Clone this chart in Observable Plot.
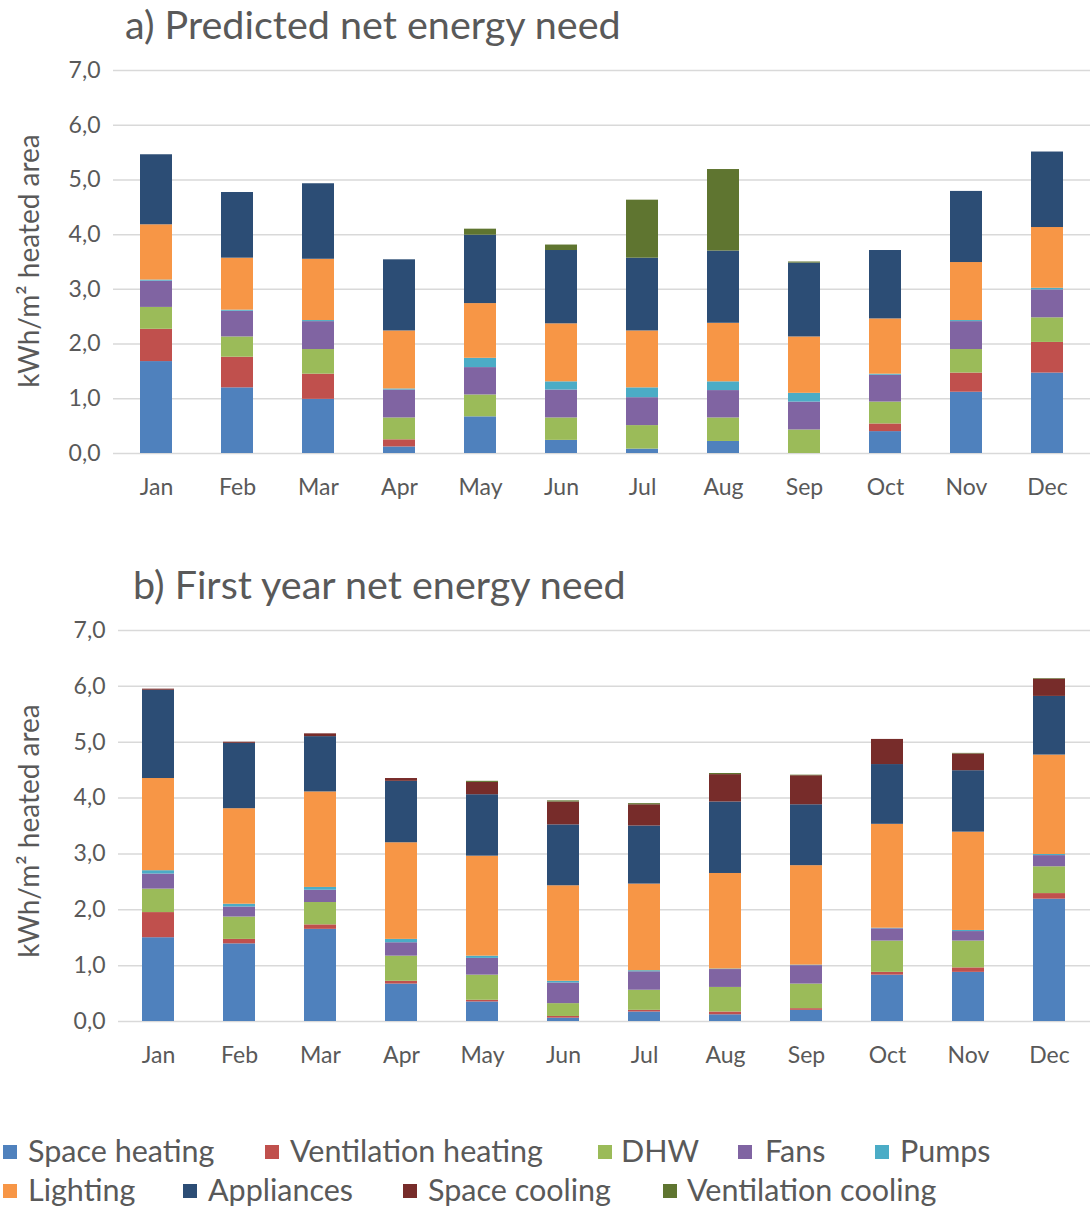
<!DOCTYPE html>
<html><head><meta charset="utf-8">
<script src="https://cdn.jsdelivr.net/npm/d3@7"></script>
<script src="https://cdn.jsdelivr.net/npm/@observablehq/plot@0.6"></script>
<style>
body{margin:0;background:#fff;font-family:Lato, "Open Sans", sans-serif;}
#wrap{position:relative;width:1090px;height:1207px;overflow:hidden;background:#fff;}
#wrap svg{position:absolute;left:0;}
.title{position:absolute;font-size:39.5px;color:#595959;white-space:nowrap;line-height:1;}
.ylab{position:absolute;font-size:28px;color:#595959;white-space:nowrap;line-height:1;transform:translate(-50%,-50%) rotate(-90deg);}
.leg{position:absolute;font-size:30.5px;color:#595959;white-space:nowrap;line-height:1;}
.sw{position:absolute;width:14px;height:14px;}
</style></head><body><div id="wrap"></div>
<script>
const months = ["Jan","Feb","Mar","Apr","May","Jun","Jul","Aug","Sep","Oct","Nov","Dec"];
const seriesNames = ["Space heating","Ventilation heating","DHW","Fans","Pumps","Lighting","Appliances","Space cooling","Ventilation cooling"];
const seriesColors = ["#4F81BD","#C0504D","#9BBB59","#8064A2","#4BACC6","#F79646","#2C4D75","#772C2A","#5F7530"];
const yTicks = [0,1,2,3,4,5,6,7];

// a) Predicted net energy need
const predSpaceHeating = [1.68,1.20,0.99,0.12,0.67,0.24,0.08,0.22,0.00,0.40,1.12,1.47];
const predVentHeating  = [0.59,0.56,0.46,0.13,0.00,0.00,0.00,0.00,0.00,0.14,0.35,0.56];
const predDHW          = [0.40,0.37,0.45,0.40,0.40,0.41,0.43,0.43,0.43,0.40,0.43,0.45];
const predFans         = [0.48,0.47,0.51,0.51,0.50,0.51,0.51,0.50,0.51,0.49,0.51,0.51];
const predPumps        = [0.02,0.02,0.02,0.02,0.17,0.15,0.18,0.16,0.16,0.02,0.02,0.03];
const predLighting     = [1.01,0.95,1.12,1.06,1.00,1.06,1.04,1.07,1.03,1.01,1.06,1.11];
const predAppliances   = [1.28,1.20,1.38,1.30,1.25,1.34,1.33,1.32,1.35,1.25,1.30,1.38];
const predSpaceCooling = [0,0,0,0,0,0,0,0,0,0,0,0];
const predVentCooling  = [0.00,0.00,0.00,0.00,0.11,0.10,1.06,1.49,0.02,0.00,0.00,0.00];

// b) First year net energy need
const firstSpaceHeating = [1.50,1.39,1.65,0.67,0.35,0.06,0.17,0.12,0.20,0.83,0.88,2.19];
const firstVentHeating  = [0.45,0.08,0.08,0.05,0.03,0.03,0.03,0.05,0.03,0.05,0.08,0.10];
const firstDHW          = [0.42,0.40,0.40,0.45,0.45,0.23,0.36,0.44,0.44,0.56,0.48,0.48];
const firstFans         = [0.27,0.18,0.22,0.24,0.30,0.37,0.33,0.32,0.33,0.22,0.17,0.20];
const firstPumps        = [0.06,0.05,0.05,0.06,0.04,0.03,0.02,0.01,0.01,0.01,0.02,0.02];
const firstLighting     = [1.65,1.71,1.71,1.73,1.79,1.71,1.55,1.71,1.78,1.86,1.76,1.78];
const firstAppliances   = [1.58,1.17,0.99,1.10,1.10,1.09,1.04,1.28,1.09,1.07,1.10,1.05];
const firstSpaceCooling = [0.02,0.02,0.05,0.05,0.22,0.41,0.38,0.49,0.52,0.45,0.30,0.31];
const firstVentCooling  = [0.00,0.00,0.00,0.00,0.02,0.02,0.02,0.02,0.01,0.00,0.01,0.01];

const predSeries = [predSpaceHeating,predVentHeating,predDHW,predFans,predPumps,predLighting,predAppliances,predSpaceCooling,predVentCooling];
const firstSeries = [firstSpaceHeating,firstVentHeating,firstDHW,firstFans,firstPumps,firstLighting,firstAppliances,firstSpaceCooling,firstVentCooling];

function toLong(arrs){
  const out = [];
  arrs.forEach((arr, si) => arr.forEach((v, mi) => out.push({month: months[mi], series: seriesNames[si], value: v})));
  return out;
}

const wrap = document.getElementById("wrap");
const fmt = d => d.toFixed(1).replace(".", ",");

function panel(data, top, height, marginLeft, titleText, titleLeft, titleTop, ylabTop){
  const chart = Plot.plot({
    width: 1090,
    height: height,
    marginTop: 70,
    marginBottom: 60,
    marginLeft: marginLeft,
    marginRight: 0,
    style: {fontFamily: "Lato, 'Open Sans', sans-serif", color: "#595959", background: "transparent", overflow: "visible"},
    x: {domain: months, paddingInner: 0.6, paddingOuter: 0.3, align: 0.5},
    y: {domain: [0, 7]},
    color: {domain: seriesNames, range: seriesColors},
    marks: [
      Plot.gridY(yTicks, {stroke: "#D9D9D9", strokeOpacity: 1, strokeWidth: 1.5}),
      Plot.barY(data, {x: "month", y: "value", fill: "series", order: null}),
      Plot.axisY(yTicks, {tickSize: 0, tickPadding: 13, fontSize: 23, tickFormat: fmt, label: null}),
      Plot.axisX({tickSize: 0, tickPadding: 25, fontSize: 23, label: null})
    ]
  });
  chart.style.top = top + "px";
  wrap.appendChild(chart);
  const t = document.createElement("div");
  t.className = "title"; t.textContent = titleText;
  t.style.left = titleLeft + "px"; t.style.top = titleTop + "px";
  wrap.appendChild(t);
  const yl = document.createElement("div");
  yl.className = "ylab"; yl.textContent = "kWh/m² heated area";
  yl.style.left = "28px"; yl.style.top = ylabTop + "px";
  wrap.appendChild(yl);
}

panel(toLong(predSeries), 0, 513, 113, "a) Predicted net energy need", 125, 4, 261);
panel(toLong(firstSeries), 560, 521, 118, "b) First year net energy need", 133, 564, 831);

// legend
const legendX = [[3,28],[265,290],[598,621],[738,765],[875,900],[3,28],[183,208],[403,428],[663,687]];
const legendRow = [0,0,0,0,0,1,1,1,1];
const rowY = [1152, 1191];
seriesNames.forEach((name, i) => {
  const sw = document.createElement("div");
  sw.className = "sw"; sw.style.background = seriesColors[i];
  sw.style.left = legendX[i][0] + "px"; sw.style.top = (rowY[legendRow[i]] - 7) + "px";
  wrap.appendChild(sw);
  const tx = document.createElement("div");
  tx.className = "leg"; tx.textContent = name;
  tx.style.left = legendX[i][1] + "px"; tx.style.top = (rowY[legendRow[i]] - 17) + "px";
  wrap.appendChild(tx);
});
</script>
</body></html>
